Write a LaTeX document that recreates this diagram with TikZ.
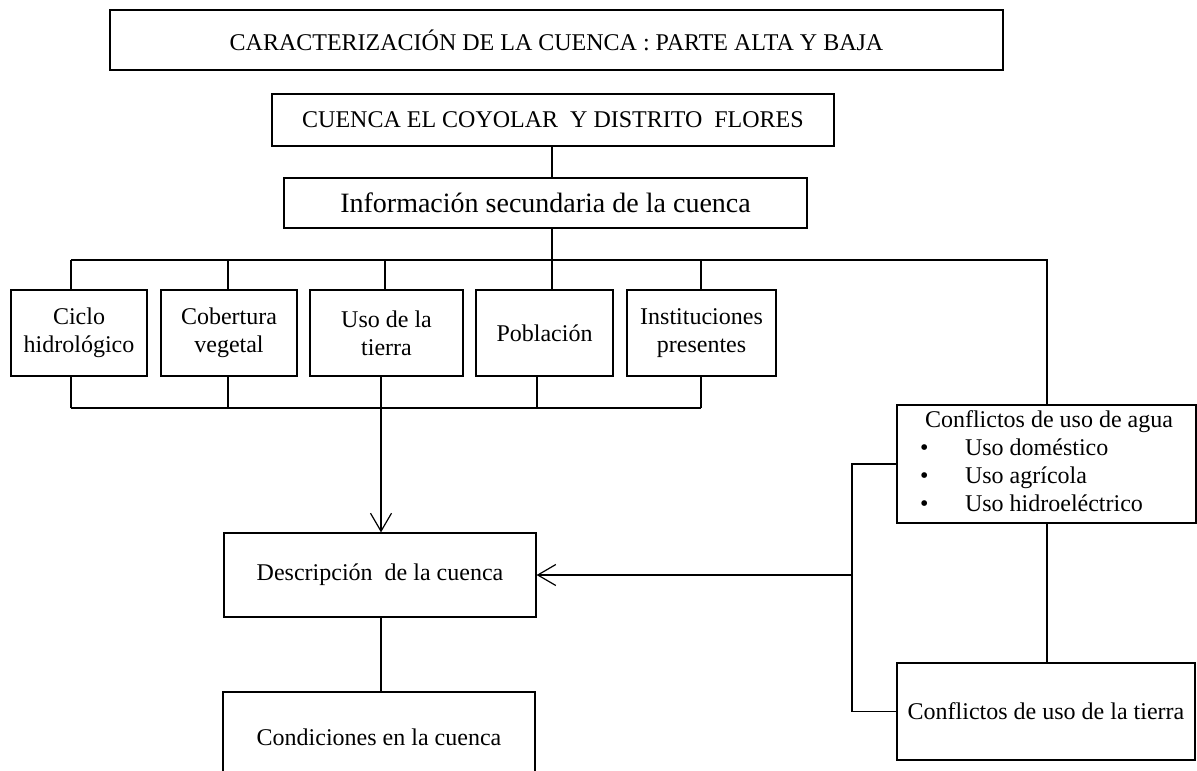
\documentclass[tikz,border=0pt]{standalone}
\usepackage{fontspec}
\setmainfont{Liberation Serif}
\usetikzlibrary{positioning,arrows.meta,calc}

\begin{document}
\begin{tikzpicture}[x=0.5pt, y=-0.5pt,
	every node/.style={inner sep=0pt, font=\fontsize{12}{14}\selectfont},
	caja/.style={draw, line width=0.6pt, align=center, minimum height=43pt},
	flecha/.style={-{Straight Barb[length=9pt, width=10.5pt, line width=0.6pt]}},
	every path/.style={line width=0.6pt}]
					\useasboundingbox (0,0) rectangle (1197,770);
					
					\node [caja, line width=0.9pt, minimum width=446.5pt, minimum height=30pt] (titulo) at (556.5,40) {CARACTERIZACIÓN DE LA CUENCA : PARTE ALTA Y BAJA};
					\node [caja, minimum width=281pt, minimum height=26pt] (cuenca) at (553,120) {CUENCA EL COYOLAR~ Y DISTRITO~ FLORES};
					\node [caja, minimum width=261.5pt, minimum height=25pt, font=\fontsize{14}{16}\selectfont] (info) at (545.5,203) {Información secundaria de la cuenca};
					
					\node [caja, minimum width=68pt] (ciclo) at (79,333) {Ciclo\\hidrológico};
					\node [caja, minimum width=68pt] (cobertura) at (229,333) {Cobertura\\vegetal};
					\node [caja, minimum width=76.5pt] (uso) at (386.5,333) {Uso de la\\tierra};
					\node [caja, minimum width=68.5pt] (poblacion) at (544.5,333) {Población};
					\node [caja, minimum width=74.5pt] (instituciones) at (701.5,333) {Instituciones\\presentes};
					
					\node [caja, minimum width=149.5pt, minimum height=59pt] (agua) at (1046.5,464) {\begin{tabular}{@{}l@{}}
						\hspace{2.5pt}Conflictos de uso de agua\\
						\makebox[22.5pt][l]{\textbullet}Uso doméstico\\
						\makebox[22.5pt][l]{\textbullet}Uso agrícola\\
						\makebox[22.5pt][l]{\textbullet}Uso hidroeléctrico
					\end{tabular}};
					\node [caja, minimum width=149pt, minimum height=48.5pt] (tierra) at (1046,711.5) {Conflictos de uso de la tierra};
					
					\node [caja, minimum width=156pt, minimum height=42pt] (descripcion) at (380,575) {Descripción~ de la cuenca};
					\node [caja, minimum width=156pt, minimum height=45pt] (condiciones) at (379,737) {Condiciones en la cuenca};
					
					% barras de arriba y de abajo
					\foreach \n/\x in {ciclo/71,cobertura/228,uso/385,poblacion/552,instituciones/701}{
						\coordinate (up-\n) at (\x,260);
						\draw (up-\n) -- (up-\n |- \n.north);
					}
					\foreach \n/\x in {ciclo/71,cobertura/228,uso/381,poblacion/537,instituciones/701}{
						\coordinate (lo-\n) at (\x,408);
						\draw (lo-\n) -- (lo-\n |- \n.south);
					}
					\coordinate (busR) at (1047,260);
					\coordinate (codo) at (852,464);
					
					\draw (cuenca.south -| up-poblacion) -- (info.north -| up-poblacion);
					\draw (info.south -| up-poblacion) -- (up-poblacion);
					\draw (up-ciclo) -- (busR) -- (busR |- agua.north);
					\draw (lo-ciclo) -- (lo-instituciones);
					
					\draw [flecha] (lo-uso) -- (lo-uso |- descripcion.north);
					\draw (descripcion.south -| lo-uso) -- (condiciones.north -| lo-uso);
					
					\draw (agua.south -| busR) -- (tierra.north -| busR);
					\draw (codo -| agua.west) -- (codo) -- (codo |- tierra.west) -- (tierra.west);
					\draw [flecha] (codo |- descripcion.east) -- (descripcion.east);
				\end{tikzpicture}
\end{document}
